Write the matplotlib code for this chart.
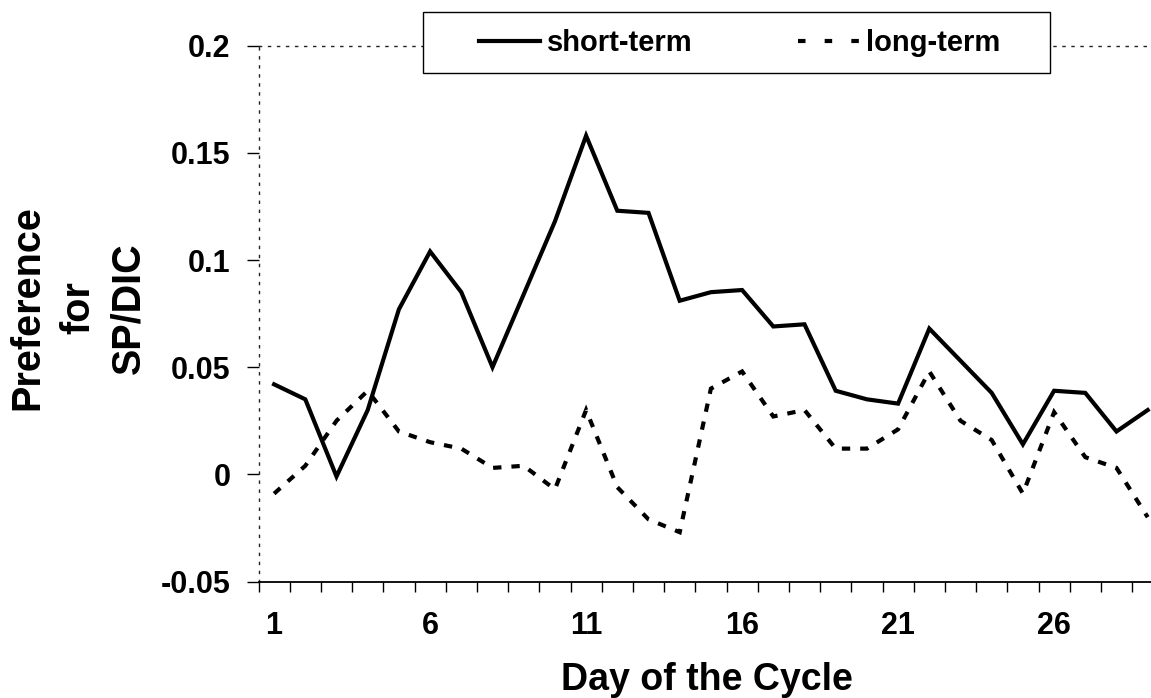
import matplotlib
matplotlib.use('Agg')
import matplotlib.pyplot as plt
from matplotlib.patches import Rectangle
from matplotlib.lines import Line2D
import numpy as np

# ---- data ----
days = list(range(1, 30))
short_term = [0.042, 0.035, -0.001, 0.030, 0.077, 0.104, 0.085, 0.050, 0.084, 0.118,
              0.158, 0.123, 0.122, 0.081, 0.085, 0.086, 0.069, 0.070, 0.039, 0.035,
              0.033, 0.068, 0.053, 0.038, 0.014, 0.039, 0.038, 0.020, 0.030]
long_term = [-0.009, 0.004, 0.025, 0.039, 0.020, 0.015, 0.012, 0.003, 0.004, -0.007,
             0.030, -0.006, -0.021, -0.027, 0.040, 0.048, 0.027, 0.030, 0.012, 0.012,
             0.021, 0.048, 0.025, 0.016, -0.009, 0.029, 0.008, 0.003, -0.020]
xtick_pos = [1, 6, 11, 16, 21, 26]
xtick_labels = ['1', '6', '11', '16', '21', '26']
yticks = [-0.05, 0, 0.05, 0.1, 0.15, 0.2]
ytick_labels = ['-0.05', '0', '0.05', '0.1', '0.15', '0.2']
series_labels = ['short-term', 'long-term']
x_label = 'Day of the Cycle'
y_label = 'Preference\nfor\nSP/DIC'

plt.rcParams['font.family'] = ['Liberation Sans', 'DejaVu Sans']
plt.rcParams['font.weight'] = 'bold'

W, H = 1151, 698
fig = plt.figure(figsize=(W / 100, H / 100), dpi=100)
fig.patch.set_facecolor('white')

ax_left = 258.5 / W
ax_width = 904.8 / W
ax_bottom = (H - 581.5) / H
ax_height = 535.8 / H
ax = fig.add_axes([ax_left, ax_bottom, ax_width, ax_height])

l1, = ax.plot(days, short_term, color='black', lw=3.0, solid_joinstyle='miter',
              label=series_labels[0])
l2, = ax.plot(days, long_term, color='black', lw=3.0, linestyle=(0, (2, 2.4)),
              dash_joinstyle='miter', label=series_labels[1])

ax.set_xlim(0.5, 29.5)
ax.set_ylim(-0.05, 0.2)
ax.set_yticks(yticks)
ax.set_yticklabels(ytick_labels)
ax.set_xticks(xtick_pos)
ax.set_xticklabels(xtick_labels)
ax.set_xticks(np.arange(0.5, 30, 1), minor=True)

ax.tick_params(axis='x', which='major', length=0, pad=21, labelsize=22)
ax.tick_params(axis='x', which='minor', length=7, width=1, direction='out', color='black')
ax.tick_params(axis='y', which='major', length=9, width=1, direction='out', pad=11,
               labelsize=22, color='black')

for side in ['top', 'left']:
    ax.spines[side].set_linestyle((0, (1.5, 5)))
    ax.spines[side].set_linewidth(1.0)
    ax.spines[side].set_color('#222222')
ax.spines['right'].set_visible(False)
ax.spines['bottom'].set_linewidth(1.3)
ax.spines['bottom'].set_color('black')

ax.set_xlabel(x_label, fontsize=27, fontweight='bold')
ax.xaxis.set_label_coords((707 - 258.5) / 904.8, (581.5 - 680) / 535.8)
ax.xaxis.label.set_va('center')

fig.text(78 / W, (H - 308) / H, y_label, rotation=90, ha='center', va='center',
         multialignment='center', fontsize=28.5, fontweight='bold', linespacing=1.42)

# legend box
fig.add_artist(Rectangle((423 / W, 1 - 73 / H), (1050 - 423) / W, 61 / H,
                         transform=fig.transFigure, facecolor='white',
                         edgecolor='black', lw=1.0, zorder=3))
h1 = Line2D([], [], color='black', lw=3.0)
h2 = Line2D([], [], color='black', lw=3.0, linestyle=(0, (1.8, 4.6)))
fig.legend([h1, h2], series_labels, loc='center',
           bbox_to_anchor=(739.5 / W, 1 - 43 / H), ncol=2, frameon=False,
           fontsize=21, handlelength=2.1, handletextpad=0.24, columnspacing=3.6,
           borderpad=0, borderaxespad=0)

fig.savefig('out.png', dpi=100)
